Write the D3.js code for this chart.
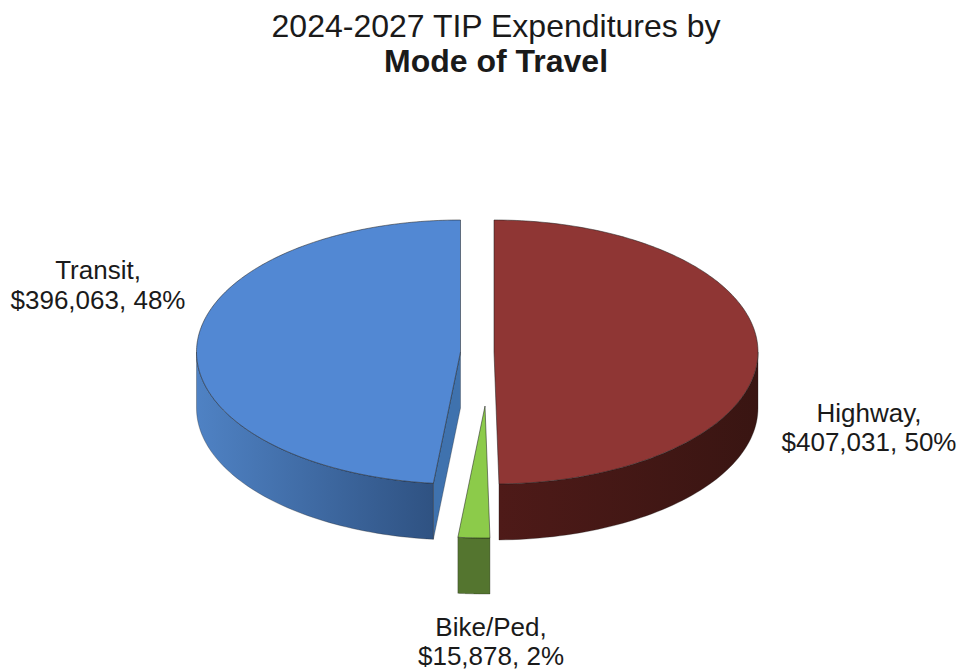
<!DOCTYPE html>
<html><head><meta charset="utf-8">
<script src="https://cdnjs.cloudflare.com/ajax/libs/d3/7.8.5/d3.min.js"></script>
<style>html,body{margin:0;padding:0;background:#fff}svg{display:block}text{font-family:"Liberation Sans",Arial,sans-serif;fill:#1a1a1a}</style>
</head><body><div id="chart"></div>
<script>
const categories = ["Highway", "Bike/Ped", "Transit"];
const values = [407031, 15878, 396063];
const percents = ["50%", "2%", "48%"];
const titleLines = ["2024-2027 TIP Expenditures by", "Mode of Travel"];
const topColors = ["#8f3634", "#8ccb4a", "#5288d3"];
const sideStart = ["#391512", "#54752f", "#4f82c4"];
const sideEnd = ["#4e1a18", "#54752f", "#2f5282"];
const centers = [[494, 352], [485, 406], [460.5, 352]];
const labelLines = [
  [["Highway,", 869, 422], ["$407,031, 50%", 869, 451]],
  [["Bike/Ped,", 491, 636], ["$15,878, 2%", 491, 665]],
  [["Transit,", 98, 279], ["$396,063, 48%", 98, 309]]
];
const W = 961, H = 671, rx = 264, ry = 132, depth = 56;

const svg = d3.select("#chart").append("svg").attr("width", W).attr("height", H);
const defs = svg.append("defs");
svg.append("g").selectAll("text").data(titleLines).join("text")
  .attr("x", 496).attr("y", (d, i) => 37 + i * 35).attr("text-anchor", "middle")
  .attr("font-size", 32).attr("font-weight", (d, i) => i ? 700 : 400).text(d => d);

const pie = d3.pie().sort(null).value(d => d)(values);
const pt = (c, a, dy = 0) => [c[0] + rx * Math.sin(a), c[1] - ry * Math.cos(a) + dy];
const line = d3.line();
const edge = "#1c1c1c";

function drawSlice(i) {
  const s = pie[i], c = centers[i], g = svg.append("g").attr("class", "slice");
  const a0 = Math.max(s.startAngle, Math.PI / 2), a1 = Math.min(s.endAngle, 3 * Math.PI / 2);
  const angs = d3.range(0, 61).map(k => a0 + (a1 - a0) * k / 60);
  const xs = d3.extent(angs, a => pt(c, a)[0]);
  const gid = "side" + i;
  const lg = defs.append("linearGradient").attr("id", gid).attr("gradientUnits", "userSpaceOnUse")
    .attr("x1", xs[0]).attr("x2", xs[1]).attr("y1", 0).attr("y2", 0);
  lg.append("stop").attr("offset", 0).attr("stop-color", i === 0 ? sideEnd[i] : sideStart[i]);
  lg.append("stop").attr("offset", 1).attr("stop-color", i === 0 ? sideStart[i] : sideEnd[i]);
  // inner wall of the transit slice, seen through the gap
  if (i === 2) {
    const e = pt(c, s.startAngle);
    g.append("path").attr("d", line([c, e, [e[0], e[1] + depth], [c[0], c[1] + depth]]) + "Z")
      .attr("fill", "#3f72ae").attr("stroke", edge).attr("stroke-width", .5).attr("stroke-opacity", .6);
  }
  const rim = angs.map(a => pt(c, a)).concat(angs.slice().reverse().map(a => pt(c, a, depth)));
  g.append("path").attr("d", line(rim) + "Z").attr("fill", `url(#${gid})`)
    .attr("stroke", edge).attr("stroke-width", .5).attr("stroke-opacity", .6);
  const face = d3.range(0, 181).map(k => pt(c, s.startAngle + (s.endAngle - s.startAngle) * k / 180));
  g.append("path").attr("d", line([c].concat(face)) + "Z").attr("fill", topColors[i])
    .attr("stroke", edge).attr("stroke-width", .7).attr("stroke-opacity", .75);
}
[2, 0, 1].forEach(drawSlice);

labelLines.forEach((ls, i) => {
  svg.append("g").attr("data-category", categories[i]).selectAll("text").data(ls).join("text")
    .attr("x", d => d[1]).attr("y", d => d[2]).attr("text-anchor", "middle")
    .attr("font-size", 26).text(d => d[0]);
});
</script></body></html>
